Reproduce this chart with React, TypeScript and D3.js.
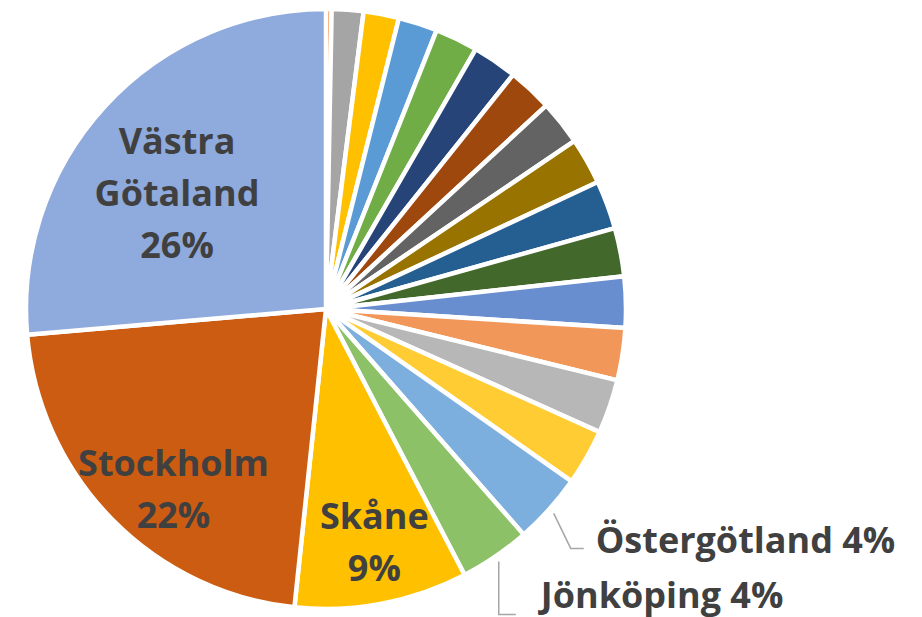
import React from 'react';
import * as d3 from 'd3';

// Data (percent shares), in the order they appear clockwise from 12 o'clock
const categories: string[] = [
  'Övrigt 1', 'Övrigt 2', 'Övrigt 3', 'Övrigt 4', 'Övrigt 5', 'Övrigt 6', 'Övrigt 7',
  'Övrigt 8', 'Övrigt 9', 'Övrigt 10', 'Övrigt 11', 'Övrigt 12', 'Övrigt 13', 'Övrigt 14',
  'Övrigt 15', 'Östergötland', 'Jönköping', 'Skåne', 'Stockholm', 'Västra Götaland',
];
const values: number[] = [
  0.3, 1.7, 1.9, 2.1, 2.3, 2.4, 2.4, 2.4, 2.5, 2.6, 2.6, 2.75, 2.8, 2.9, 3.0,
  3.8, 3.8, 9.3, 21.9, 26.3,
];
const colors: string[] = [
  '#ED7D31', '#A5A5A5', '#FFC000', '#5B9BD5', '#70AD47', '#264478', '#9E480E',
  '#636363', '#997300', '#255E91', '#43682B', '#698ED0', '#F1975A', '#B7B7B7',
  '#FFCD33', '#7CAFDD', '#8CC168', '#FFC000', '#CC5C12', '#8FAADC',
];

// label layout (not data)
const insideLabels: Record<string, { lines: string[]; r: number; dx: number; dy: number }> = {
  'Västra Götaland': { lines: ['Västra', 'Götaland'], r: 190, dx: -9, dy: 12 },
  'Stockholm': { lines: ['Stockholm'], r: 236, dx: 16, dy: 15 },
  'Skåne': { lines: ['Skåne'], r: 238, dx: 4, dy: -1 },
};
const outsideLabels: Record<string, { elbow: [number, number]; end: [number, number]; text: [number, number] }> = {
  'Östergötland': { elbow: [17, 35], end: [30, 35], text: [42, 40] },
  'Jönköping': { elbow: [0, 53], end: [17, 53], text: [42, 46] },
};

const W = 922;
const H = 617;
const CX = 326;
const CY = 309;
const R = 300;
const FONT = "'Open Sans', 'Noto Sans', sans-serif";
const TEXT = '#404040';
const LINE_H = 52;

export default function App() {
  const total = d3.sum(values);
  const data = categories.map((c, i) => ({ name: c, value: values[i], color: colors[i] }));
  const pie = d3.pie<any>().value((d: any) => d.value).sort(null).startAngle(0).endAngle(2 * Math.PI);
  const arcs = pie(data);
  const arc = d3.arc<any>().innerRadius(0).outerRadius(R);
  const polar = (a: number, r: number): [number, number] => [Math.sin(a) * r, -Math.cos(a) * r];
  const pct = (v: number) => `${Math.round((v / total) * 100)}%`;

  return (
    <svg width={W} height={H} style={{ position: 'absolute', left: 0, top: 0, background: '#fff' }}>
      <rect x={0} y={0} width={W} height={H} fill="#fff" />
      <g transform={`translate(${CX},${CY})`}>
        {arcs.map((a, i) => (
          <path key={i} d={arc(a) as string} fill={a.data.color} stroke="#fff" strokeWidth={4.5} strokeLinejoin="round" />
        ))}
        {arcs.map((a, i) => {
          const lab = insideLabels[a.data.name];
          if (!lab) return null;
          const mid = (a.startAngle + a.endAngle) / 2;
          const [px, py] = polar(mid, lab.r);
          const x = px + lab.dx;
          const lines = [...lab.lines, pct(a.data.value)];
          const yc = py + lab.dy;
          const first = yc - ((lines.length - 1) * LINE_H) / 2 + 13;
          return (
            <text key={'in' + i} x={x} y={first} textAnchor="middle" fontFamily={FONT} fontWeight={700} fontSize={36} fill={TEXT}>
              {lines.map((l, j) => (
                <tspan key={j} x={x} dy={j === 0 ? 0 : LINE_H}>{l}</tspan>
              ))}
            </text>
          );
        })}
        {arcs.map((a, i) => {
          const lab = outsideLabels[a.data.name];
          if (!lab) return null;
          const mid = (a.startAngle + a.endAngle) / 2;
          const [sx, sy] = polar(mid, R + 6);
          const pts = [[sx, sy], [sx + lab.elbow[0], sy + lab.elbow[1]], [sx + lab.end[0], sy + lab.end[1]]];
          return (
            <g key={'out' + i}>
              <polyline points={pts.map((p) => p.join(',')).join(' ')} fill="none" stroke="#A6A6A6" strokeWidth={1.5} />
              <text x={sx + lab.text[0]} y={sy + lab.text[1]} fontFamily={FONT} fontWeight={700} fontSize={36} fill={TEXT}>
                {`${a.data.name} ${pct(a.data.value)}`}
              </text>
            </g>
          );
        })}
      </g>
    </svg>
  );
}
